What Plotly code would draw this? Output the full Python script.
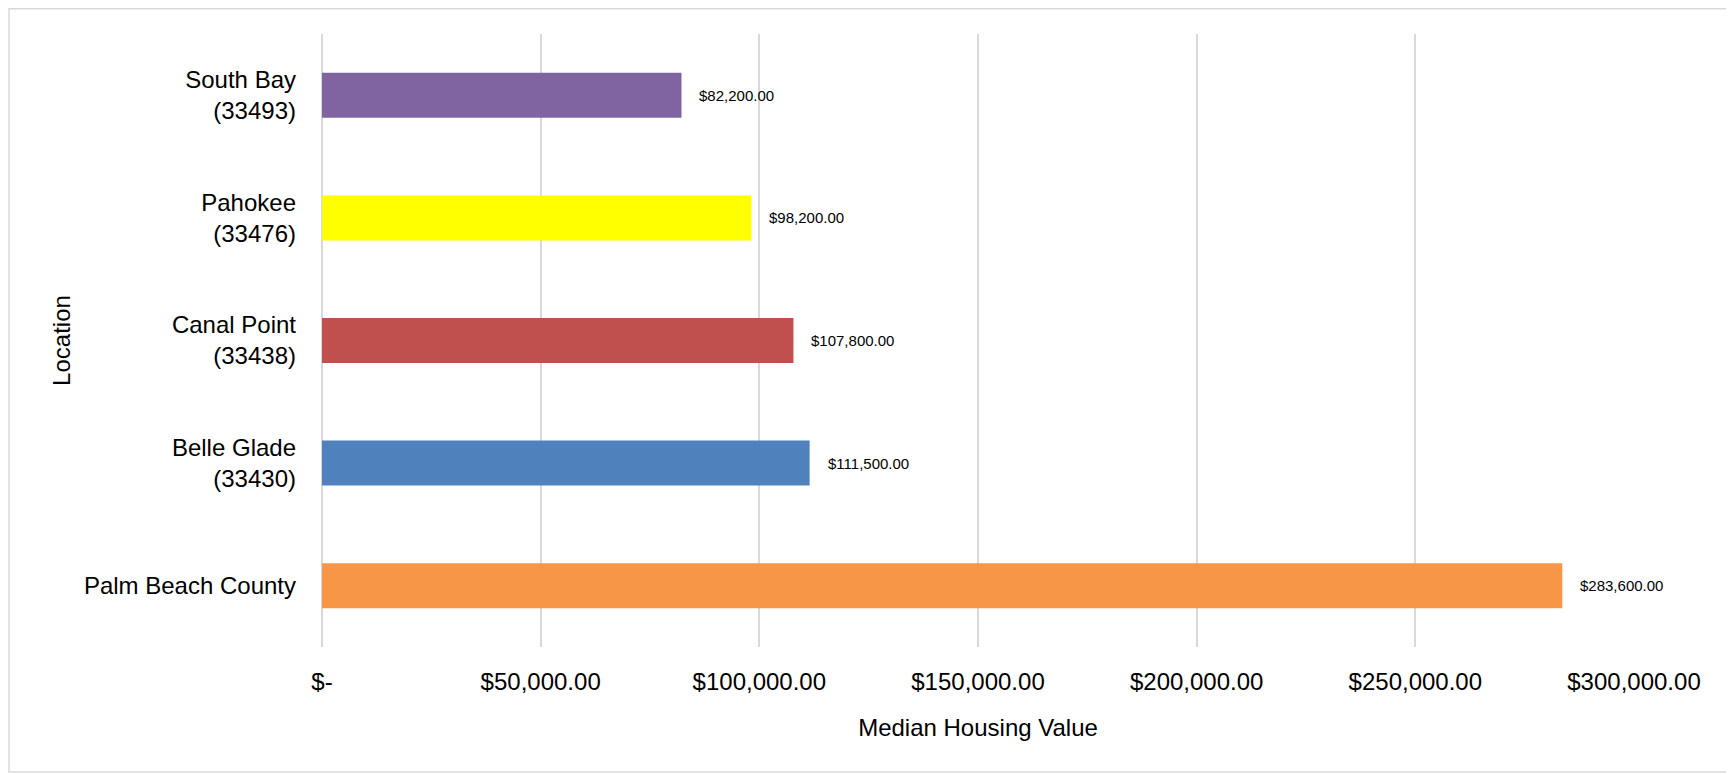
import plotly.graph_objects as go

# ---- data (bottom to top) ----
categories = ["Palm Beach County", "Belle Glade<br>(33430)", "Canal Point<br>(33438)",
              "Pahokee<br>(33476)", "South Bay<br>(33493)"]
values = [283600, 111500, 107800, 98200, 82200]
value_labels = ["$283,600.00", "$111,500.00", "$107,800.00", "$98,200.00", "$82,200.00"]
bar_colors = ["#F79646", "#4F81BD", "#C0504D", "#FFFF00", "#8064A2"]
tick_vals = [0, 50000, 100000, 150000, 200000, 250000, 300000]
tick_text = ["$-", "$50,000.00", "$100,000.00", "$150,000.00", "$200,000.00",
             "$250,000.00", "$300,000.00"]
x_title = "Median Housing Value"
y_title = "Location"

FONT = "Liberation Sans, Arial, sans-serif"
BIG = 24
SMALL = 15

# the page body has an 8px default margin, so the figure is 8px smaller
W, H = 1726, 766
L, R, T, B = 314, 100, 26, 127
PW, PH = W - L - R, H - T - B

fig = go.Figure()
fig.add_trace(go.Bar(
    x=values, y=categories, orientation="h",
    marker=dict(color=bar_colors, line=dict(width=0)),
    hoverinfo="x+y", showlegend=False,
))

for v, c, t in zip(values, categories, value_labels):
    fig.add_annotation(x=v, y=c, text=t, showarrow=False, xanchor="left",
                       yanchor="middle", xshift=16,
                       font=dict(family=FONT, size=SMALL, color="#000000"))

# outer chart border
fig.add_shape(type="rect", xref="paper", yref="paper",
              x0=(1 - L) / PW, x1=(1722 - L) / PW,
              y0=(T + PH - 764) / PH, y1=(T + PH - 0.8) / PH,
              line=dict(color="#D9D9D9", width=1.5), fillcolor="rgba(0,0,0,0)",
              layer="below")

fig.update_layout(
    width=W, height=H,
    margin=dict(l=L, r=R, t=T, b=B, autoexpand=False),
    paper_bgcolor="white", plot_bgcolor="white",
    bargap=0.633,
    font=dict(family=FONT, size=BIG, color="#000000"),
)
fig.update_xaxes(
    range=[0, 300000], tickvals=tick_vals, ticktext=tick_text,
    showgrid=True, gridcolor="#D9D9D9", gridwidth=1.5,
    zeroline=True, zerolinecolor="#D9D9D9", zerolinewidth=1.5,
    showline=False, ticks="",
    ticklabelstandoff=18,
    tickfont=dict(family=FONT, size=BIG, color="#000000"),
    title=dict(text=x_title, font=dict(family=FONT, size=BIG, color="#000000"), standoff=25),
)
fig.update_yaxes(
    categoryorder="array", categoryarray=categories,
    showgrid=False, zeroline=False, showline=False, ticks="",
    ticklabelstandoff=25,
    tickfont=dict(family=FONT, size=BIG, color="#000000"),
    title=dict(text=y_title, font=dict(family=FONT, size=BIG, color="#000000"), standoff=6),
)

fig.write_html("out.html")
